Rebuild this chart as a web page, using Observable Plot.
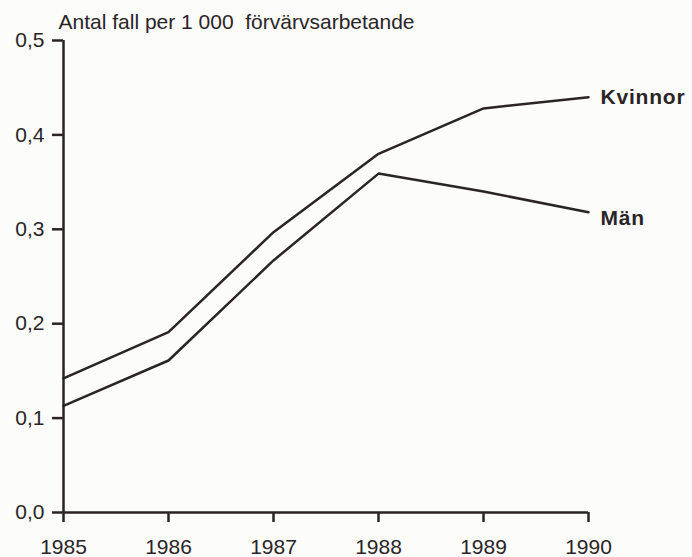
<!DOCTYPE html>
<html>
<head>
<meta charset="utf-8">
<script src="https://cdn.jsdelivr.net/npm/d3@7"></script>
<script src="https://cdn.jsdelivr.net/npm/@observablehq/plot@0.6"></script>
<style>
  html, body { margin: 0; padding: 0; background: #fcfcfb; }
  #chart { width: 692px; height: 557px; }
  .serieslabel text { letter-spacing: 0.8px; }
</style>
</head>
<body>
<div id="chart"></div>
<script>
const years = [1985, 1986, 1987, 1988, 1989, 1990];
const kvinnor = [0.142, 0.191, 0.297, 0.380, 0.428, 0.440];
const man = [0.113, 0.161, 0.267, 0.359, 0.340, 0.318];
const seriesNames = ["Kvinnor", "Män"];
const yTicks = [0, 0.1, 0.2, 0.3, 0.4, 0.5];
const title = "Antal fall per 1 000\u00a0 förvärvsarbetande";

const ink = "#2a2426";
const data = [];
years.forEach((yr, i) => data.push({year: yr, value: kvinnor[i], series: seriesNames[0]}));
years.forEach((yr, i) => data.push({year: yr, value: man[i], series: seriesNames[1]}));
const lastPoints = [
  {year: years[years.length - 1], value: kvinnor[kvinnor.length - 1], series: seriesNames[0]},
  {year: years[years.length - 1], value: man[man.length - 1], series: seriesNames[1]}
];

const chart = Plot.plot({
  width: 692,
  height: 557,
  marginLeft: 63,
  marginRight: 104,
  marginTop: 40,
  marginBottom: 45,
  x: {domain: [years[0], years[years.length - 1]]},
  y: {domain: [yTicks[0], yTicks[yTicks.length - 1]]},
  style: {fontFamily: "'Liberation Sans', Arial, Helvetica, sans-serif", fontSize: "21px", color: ink, background: "transparent"},
  marks: [
    Plot.axisX({ticks: years, tickFormat: d => String(d), tickSize: 10, tickPadding: 17, label: null, strokeWidth: 2.5, fontSize: 21}),
    Plot.axisY({ticks: yTicks, tickFormat: d => d.toFixed(1).replace(".", ","), tickSize: 11, tickPadding: 8, label: null, strokeWidth: 2.5, fontSize: 21}),
    Plot.ruleX([years[0]], {y1: yTicks[0], y2: yTicks[yTicks.length - 1], stroke: ink, strokeWidth: 2.5}),
    Plot.ruleY([yTicks[0]], {stroke: ink, strokeWidth: 2.5}),
    Plot.line(data, {x: "year", y: "value", z: "series", stroke: ink, strokeWidth: 2.5, strokeLinejoin: "miter"}),
    Plot.text(lastPoints.slice(0, 1), {x: "year", y: "value", text: "series", dx: 12, dy: 0, textAnchor: "start", fontWeight: "bold", fontSize: 21, fill: ink, className: "serieslabel"}),
    Plot.text(lastPoints.slice(1), {x: "year", y: "value", text: "series", dx: 12, dy: 6, textAnchor: "start", fontWeight: "bold", fontSize: 21, fill: ink, className: "serieslabel"}),
    Plot.text([title], {frameAnchor: "top-left", dx: -5, dy: -18, textAnchor: "start", lineAnchor: "middle", fontSize: 21, fill: ink})
  ]
});
document.getElementById("chart").appendChild(chart);
</script>
</body>
</html>
